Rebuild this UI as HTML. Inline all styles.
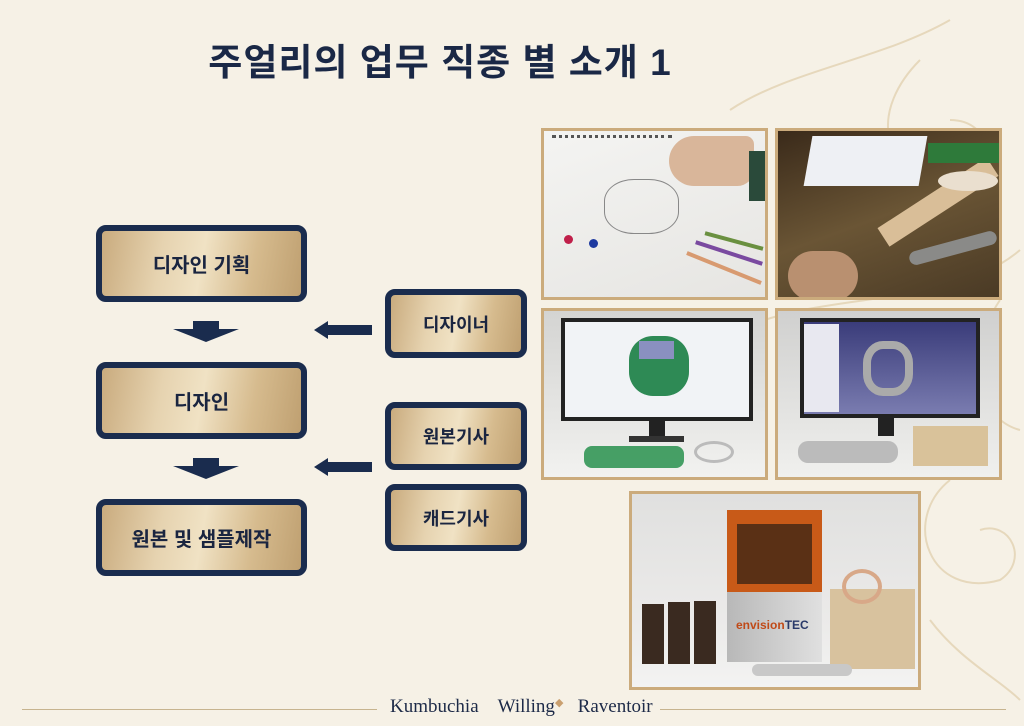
<!DOCTYPE html>
<html><head><meta charset="utf-8"><style>
*{margin:0;padding:0;box-sizing:border-box}
body{width:1024px;height:726px;background:#f6f1e6;position:relative;overflow:hidden;font-family:"Liberation Sans","Noto Sans CJK KR",sans-serif}
.a{position:absolute}
.title{left:0;width:880px;top:32px;text-align:center;font-size:37px;font-weight:bold;color:#1a2846;letter-spacing:1px}
.box{position:absolute;border:6px solid #1a2c4e;border-radius:10px;background:linear-gradient(100deg,#c9ab7e 0%,#e6d3b0 30%,#f0e2c4 50%,#d6bb8e 75%,#bfa071 100%);display:flex;align-items:center;justify-content:center;font-weight:bold;color:#1a2540;font-size:20px}
.photo{position:absolute;border:3px solid #cbab7c;overflow:hidden}
.dn{position:absolute;width:0;height:0;border-left:33px solid transparent;border-right:33px solid transparent;border-top:13px solid #1a2c4e}
.lf{position:absolute;width:0;height:0;border-top:9px solid transparent;border-bottom:9px solid transparent;border-right:14px solid #1a2c4e}
.nv{background:#1a2c4e}
</style></head><body>
<svg class="a" style="left:700px;top:0" width="324" height="726" viewBox="0 0 324 726" fill="none" stroke="#e3d2b2" stroke-width="2" opacity=".8">
<path d="M220 60 C170 110 180 170 240 180 C300 190 300 120 250 120"/>
<path d="M30 110 C90 70 180 60 250 20"/>
<path d="M40 330 C120 290 250 310 320 250"/>
<path d="M250 480 C200 520 230 600 300 580 C330 560 310 520 280 530"/>
<path d="M230 620 C260 660 300 680 320 700"/>
<path d="M300 300 C260 360 280 420 320 430"/>
</svg>
<div class="a title">주얼리의 업무 직종 별 소개 1</div>

<div class="box" style="left:96px;top:225px;width:211px;height:77px">디자인 기획</div>
<div class="box" style="left:96px;top:362px;width:211px;height:77px">디자인</div>
<div class="box" style="left:96px;top:499px;width:211px;height:77px">원본 및 샘플제작</div>
<div class="box" style="left:385px;top:289px;width:142px;height:69px;font-size:18px">디자이너</div>
<div class="box" style="left:385px;top:402px;width:142px;height:68px;font-size:18px">원본기사</div>
<div class="box" style="left:385px;top:484px;width:142px;height:67px;font-size:18px">캐드기사</div>

<div class="a nv" style="left:193px;top:321px;width:26px;height:9px"></div><div class="dn" style="left:173px;top:329px"></div>
<div class="a nv" style="left:193px;top:458px;width:26px;height:9px"></div><div class="dn" style="left:173px;top:466px"></div>
<div class="lf" style="left:314px;top:321px"></div><div class="a nv" style="left:327px;top:325px;width:45px;height:10px"></div>
<div class="lf" style="left:314px;top:458px"></div><div class="a nv" style="left:327px;top:462px;width:45px;height:10px"></div>

<div class="photo" style="left:541px;top:128px;width:227px;height:172px;background:linear-gradient(160deg,#f4f4f2,#e6e5e2)">
<div class="a" style="left:8px;top:4px;width:120px;height:8px;border-top:3px dotted #555"></div>
<div class="a" style="left:60px;top:48px;width:75px;height:55px;border:1px solid #888;border-radius:40%"></div>
<div class="a" style="left:125px;top:5px;width:85px;height:50px;background:#d9b69a;border-radius:30px 10px 20px 30px"></div>
<div class="a" style="left:205px;top:20px;width:22px;height:50px;background:#2a4a3a"></div>
<div class="a" style="left:20px;top:104px;width:9px;height:9px;background:#c01f4a;border-radius:50%"></div>
<div class="a" style="left:45px;top:108px;width:9px;height:9px;background:#1e3aa0;border-radius:50%"></div>
<div class="a" style="left:150px;top:120px;width:70px;height:4px;background:#7a4aa0;transform:rotate(18deg)"></div>
<div class="a" style="left:140px;top:135px;width:80px;height:4px;background:#d89a70;transform:rotate(22deg)"></div>
<div class="a" style="left:160px;top:108px;width:60px;height:4px;background:#6a9040;transform:rotate(15deg)"></div>
</div>
<div class="photo" style="left:775px;top:128px;width:227px;height:172px;background:linear-gradient(160deg,#3a2a1a,#6a5535 50%,#4a3a25)">
<div class="a" style="left:30px;top:5px;width:115px;height:50px;background:#eef0f4;transform:skewX(-10deg)"></div>
<div class="a" style="left:95px;top:60px;width:130px;height:22px;background:#d9be98;transform:rotate(-33deg)"></div>
<div class="a" style="left:160px;top:40px;width:60px;height:20px;background:#eadfcf;border-radius:50%"></div>
<div class="a" style="left:130px;top:110px;width:90px;height:14px;background:#8a8a88;border-radius:7px;transform:rotate(-15deg)"></div>
<div class="a" style="left:10px;top:120px;width:70px;height:50px;background:#b99070;border-radius:30px"></div>
<div class="a" style="left:150px;top:12px;width:75px;height:20px;background:#2e7a3a"></div>
</div>
<div class="photo" style="left:541px;top:308px;width:227px;height:172px;background:linear-gradient(#d4d4d2,#e8e8e6 70%,#f2f2f0)">
<div class="a" style="left:17px;top:7px;width:192px;height:103px;background:#222;padding:4px"><div style="width:100%;height:100%;background:#f1f3f6"></div></div>
<div class="a" style="left:85px;top:25px;width:60px;height:60px;background:#2e8a55;border-radius:40%"></div>
<div class="a" style="left:95px;top:30px;width:35px;height:18px;background:#8a90c0"></div>
<div class="a" style="left:105px;top:110px;width:16px;height:16px;background:#222"></div>
<div class="a" style="left:85px;top:125px;width:55px;height:6px;background:#333"></div>
<div class="a" style="left:40px;top:135px;width:100px;height:22px;background:#28904e;border-radius:8px;opacity:.85"></div>
<div class="a" style="left:150px;top:130px;width:40px;height:22px;border:3px solid #bbb;border-radius:50%"></div>
</div>
<div class="photo" style="left:775px;top:308px;width:227px;height:172px;background:linear-gradient(#d0d0cf,#e6e6e4 70%,#f0f0ee)">
<div class="a" style="left:22px;top:7px;width:180px;height:100px;background:#222;padding:4px"><div style="width:100%;height:100%;background:linear-gradient(#3a3c7a,#7a7cb0)"></div></div>
<div class="a" style="left:26px;top:13px;width:35px;height:88px;background:#e8e8f0"></div>
<div class="a" style="left:85px;top:30px;width:50px;height:55px;border:8px solid #aaa;border-radius:40%"></div>
<div class="a" style="left:100px;top:107px;width:16px;height:18px;background:#222"></div>
<div class="a" style="left:135px;top:115px;width:75px;height:40px;background:#d9c29a"></div>
<div class="a" style="left:20px;top:130px;width:100px;height:22px;background:#bbb;border-radius:10px"></div>
</div>
<div class="photo" style="left:629px;top:491px;width:292px;height:199px;background:linear-gradient(#e0e0df,#ecebea 70%,#f3f3f2)">
<div class="a" style="left:95px;top:16px;width:95px;height:82px;background:#c85a18"></div>
<div class="a" style="left:105px;top:30px;width:75px;height:60px;background:#5a3015"></div>
<div class="a" style="left:95px;top:98px;width:95px;height:70px;background:linear-gradient(90deg,#b8b8b8,#e0e0e0)"></div>
<div class="a" style="left:104px;top:124px;font-size:12px;font-weight:bold;color:#c04a18">envision<span style="color:#2a3a6a">TEC</span></div>
<div class="a" style="left:10px;top:110px;width:22px;height:60px;background:#3a2a20"></div>
<div class="a" style="left:36px;top:108px;width:22px;height:62px;background:#3a2a20"></div>
<div class="a" style="left:62px;top:107px;width:22px;height:63px;background:#3a2a20"></div>
<div class="a" style="left:198px;top:95px;width:85px;height:80px;background:#d8c29e"></div>
<div class="a" style="left:210px;top:75px;width:40px;height:35px;border:4px solid #d8a888;border-radius:50%"></div>
<div class="a" style="left:120px;top:170px;width:100px;height:12px;background:#c8c8c8;border-radius:6px"></div>
</div>

<div class="a" style="left:22px;top:709px;width:355px;height:1px;background:#c7b48f"></div>
<div class="a" style="left:660px;top:709px;width:346px;height:1px;background:#c7b48f"></div>
<div class="a" style="left:390px;top:696px;font-family:'Liberation Serif',serif;font-size:19px;color:#1d2a48;white-space:nowrap">Kumbuchia&nbsp;&nbsp;&nbsp;&nbsp;Willing<span style="color:#caa070;font-size:11px;vertical-align:top">◆</span>&nbsp;&nbsp;&nbsp;Raventoir</div>
</body></html>
